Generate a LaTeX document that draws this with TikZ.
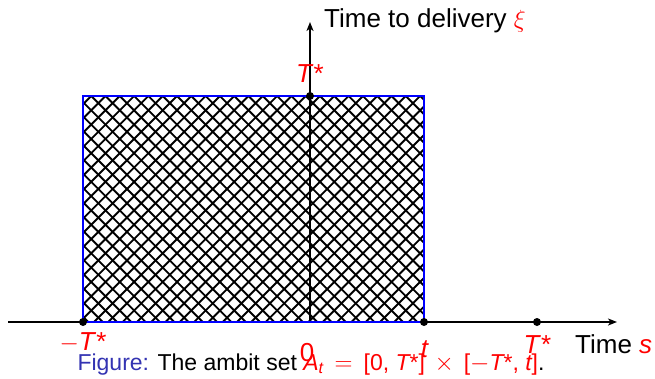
\documentclass[tikz,border=0pt]{standalone}
\usepackage{amsmath}
\usepackage{fontspec}
\setmainfont{Liberation Sans}
\usetikzlibrary{arrows.meta}
\definecolor{capblue}{rgb}{0.2,0.2,0.7}
\begin{document}
\begin{tikzpicture}[x=1pt,y=-1pt,
  axis/.style={line width=1.5pt, -{Stealth[length=9pt,width=7pt,inset=2.5pt]}},
  hatchline/.style={line width=1.9pt},
  border/.style={draw=blue, line width=2.5pt},
  dot/.style={circle, fill=black, inner sep=0pt, minimum size=8pt},
  lbl/.style={font=\fontsize{26}{31}\selectfont, inner sep=0pt, anchor=base},
  redlbl/.style={lbl, text=red},
  captext/.style={font=\fontsize{23}{28}\selectfont, inner sep=0pt, anchor=base}
]
\useasboundingbox (0,0) rectangle (655,378);
% hatching
\begin{scope}
  \clip (83,96) rectangle (424,322);
  \foreach \k in {-18,...,24} \draw[hatchline] ({416+\k*14.3},0) -- ({16+\k*14.3},400);
  \foreach \k in {-33,...,8} \draw[hatchline] ({224+\k*14.3},0) -- ({624+\k*14.3},400);
\end{scope}
% axes
\coordinate (xs) at (8,322);
\coordinate (xe) at (617,322);
\coordinate (ys) at (310,322);
\coordinate (ye) at (310,22);
\draw[axis] (xs) -- (xe);
\draw[axis] (ys) -- (ye);
% border
\draw[border] (83,96) rectangle (424,322);
% dots
\node[dot] (dtop) at (310,96) {};
\node[dot] (dl) at (83,322) {};
\node[dot] (dt) at (424,322) {};
\node[dot] (dr) at (537,322) {};
% labels
\node[redlbl] (lml) at (83,350) {$-$\textit{T}*};
\node[redlbl] (lz) at (307,361) {0};
\node[redlbl] (lt) at (425,357) {\textit{t}};
\node[redlbl] (ltr) at (537.5,353) {\textit{T}*};
\node[redlbl] (ltop) at (310,82) {\textit{T}*};
\node[lbl, anchor=base west] (ls) at (575,353) {Time \textcolor{red}{\textit{s}}};
\node[lbl, anchor=base west] (lxi) at (324,27) {Time to delivery \textcolor{red}{$\xi$}};
% caption
\node[captext] (caption) at (311,370) {\textcolor{capblue}{Figure:} The ambit set \textcolor{red}{$\textit{A}_{\textit{t}} \,=\, \text{[0, }\textit{T}\text{*]} \,\times\, \text{[}{-}\textit{T}\text{*, }\textit{t}\text{]}$}.};
\end{tikzpicture}
\end{document}
